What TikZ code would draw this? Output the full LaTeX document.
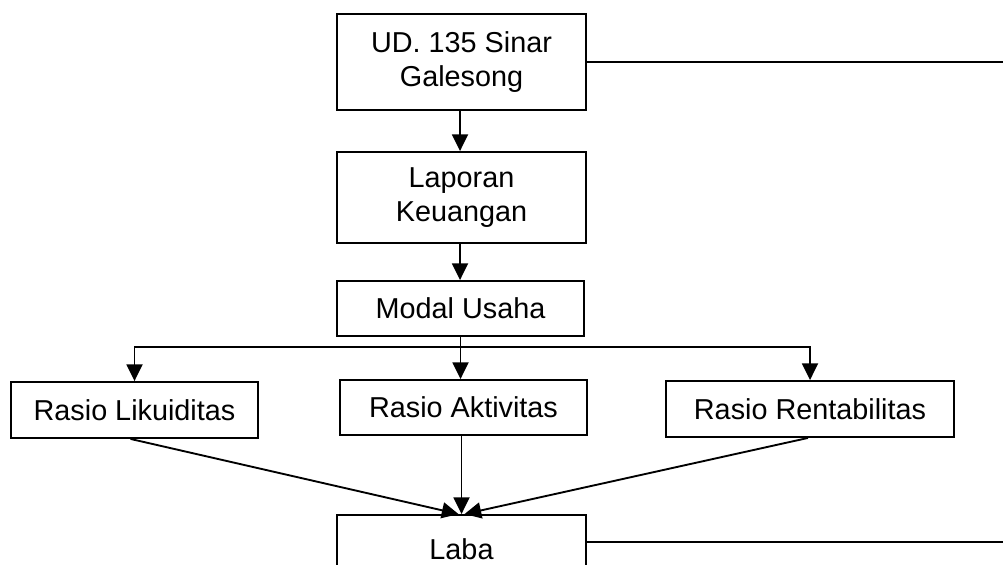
\documentclass[tikz,border=0pt]{standalone}
\usepackage{fontspec}
\setmainfont{Liberation Sans}
\usepackage{tikz}
\usetikzlibrary{arrows.meta,positioning,calc}

\begin{document}
\begin{tikzpicture}[x=0.75pt, y=-0.75pt, line width=1.4pt,
      box/.style={draw, rectangle, inner sep=0pt, align=center,
        minimum width=186.75pt, minimum height=41.25pt,
        font=\fontsize{21.6}{26}\selectfont},
      arr/.style={-{Triangle[length=12.5pt,width=12pt]}}]
    \clip (0,0) rectangle (1003,564);
    \node (UD) [box, minimum height=72pt] at (461.5,62) {UD. 135 Sinar\\Galesong};
    \node (Laporan) [box, minimum height=68.25pt] at (461.5,197.5) {Laporan\\Keuangan};
    \node (Modal) [box, minimum width=185.25pt] at (460.5,308.5) {Modal Usaha};
    \node (Likuiditas) [box, minimum width=185.25pt, minimum height=42pt] at (134.5,410) {Rasio Likuiditas};
    \node (Aktivitas) [box, minimum width=185.25pt] at (463.5,407.5) {Rasio Aktivitas};
    \node (Rentabilitas) [box, minimum width=216pt, minimum height=42pt] at (810,409) {Rasio Rentabilitas};
    \node (Laba) [box, minimum height=51pt] at (461.5,549) {Laba};
    \coordinate (split) at (460.5,347);
    \coordinate (edgeUD) at (1003,62);
    \coordinate (edgeLaba) at (1003,542);
    % alur utama
    \draw[arr] (UD.south -| 460,0) -- (Laporan.north -| 460,0);
    \draw[arr] (Laporan.south -| 460,0) -- (Modal.north -| 460,0);
    \draw (Modal.south -| split) -- (split);
    \draw[arr] (split) -| (Likuiditas);
    \draw[arr] (split) -| (Rentabilitas);
    \draw[arr] (split) -- (split |- Aktivitas.north);
    % rasio ke laba
    \draw[arr] ($(Likuiditas.south)+(-4,0)$) -- ($(Laba.north)+(-3,0)$);
    \draw[arr] (Aktivitas.south -| Laba.north) -- (Laba.north);
    \draw[arr] ($(Rentabilitas.south)+(-2,0)$) -- ($(Laba.north)+(3,0)$);
    % garis ke kanan
    \draw (UD.east) -- (edgeUD);
    \draw (Laba.east |- edgeLaba) -- (edgeLaba);
  \end{tikzpicture}
\end{document}
